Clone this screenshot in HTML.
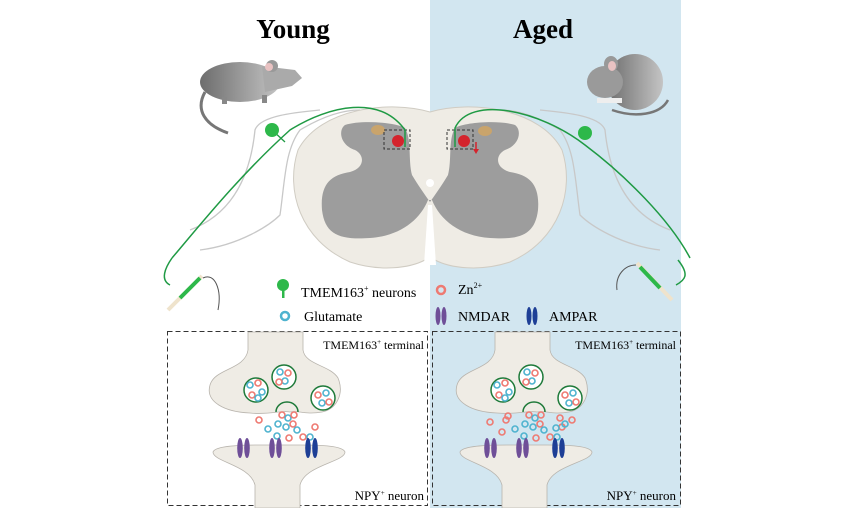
<!DOCTYPE html>
<html><head><meta charset="utf-8"><style>
html,body{margin:0;padding:0;background:#fff;}
svg{display:block}
text{font-family:"Liberation Serif",serif;}
</style></head><body>
<svg width="842" height="508" viewBox="0 0 842 508" xmlns="http://www.w3.org/2000/svg">
<defs>
<linearGradient id="mg" x1="0" x2="1"><stop offset="0" stop-color="#6d6d6d"/><stop offset="1" stop-color="#c4c4c4"/></linearGradient>
<g id="glu"><circle r="3" fill="none" stroke="#4fb3cf" stroke-width="1.6"/></g>
<g id="zn"><circle r="3" fill="none" stroke="#ee7a72" stroke-width="1.6"/></g>
</defs>
<rect x="0" y="0" width="842" height="508" fill="#fff"/>
<rect x="430" y="0" width="251" height="508" fill="#d2e6f0"/>

<text x="293" y="38" font-size="27" font-weight="bold" text-anchor="middle">Young</text>
<text x="543" y="38" font-size="27" font-weight="bold" text-anchor="middle">Aged</text>

<!-- young mouse -->
<path d="M205 92 C195 110 205 125 228 133" fill="none" stroke="#777" stroke-width="3"/>
<ellipse cx="240" cy="82" rx="40" ry="20" fill="url(#mg)"/>
<path d="M262 66 L295 70 L302 78 L292 86 L265 92 Z" fill="#aaa"/>
<ellipse cx="272" cy="66" rx="6" ry="6" fill="#999"/>
<ellipse cx="269" cy="67" rx="4" ry="4" fill="#e9c2c2"/>
<rect x="222" y="97" width="5" height="7" fill="#888"/><rect x="262" y="95" width="5" height="8" fill="#888"/>

<!-- aged mouse -->
<path d="M612 110 C635 118 660 115 668 100" fill="none" stroke="#777" stroke-width="2.5"/>
<ellipse cx="635" cy="82" rx="28" ry="28" fill="url(#mg)"/>
<ellipse cx="605" cy="82" rx="18" ry="16" fill="#9a9a9a"/>
<ellipse cx="611" cy="64" rx="7" ry="8" fill="#999"/>
<ellipse cx="612" cy="66" rx="4" ry="5" fill="#e9c2c2"/>
<rect x="597" y="98" width="25" height="5" fill="#eee"/>

<!-- body outlines -->
<path d="M190 230 C230 215 250 180 255 130 C260 115 300 112 320 110" fill="none" stroke="#c8c8c8" stroke-width="1.3"/>
<path d="M200 250 C240 245 270 225 280 215 C285 180 285 150 300 130 C320 118 340 110 360 110" fill="none" stroke="#c8c8c8" stroke-width="1.3"/>
<path d="M670 230 C630 215 610 180 605 130 C600 115 560 112 540 110" fill="none" stroke="#c8c8c8" stroke-width="1.3"/>
<path d="M660 250 C620 245 590 225 580 215 C575 180 575 150 560 130 C540 118 520 110 500 110" fill="none" stroke="#c8c8c8" stroke-width="1.3"/>

<!-- spinal cord -->
<path d="M430 112 C470 100 540 108 562 150 C575 190 560 240 510 262 C480 272 450 268 435 260 L430 215 L425 260 C410 268 380 272 350 262 C300 240 285 190 298 150 C320 108 390 100 430 112 Z" fill="#efece5" stroke="#d0ccc3" stroke-width="1"/>
<path d="M432 205 L428 205 L424 265 L436 265 Z" fill="#fff"/>
<path d="M345 125 C360 120 395 122 405 128 C412 140 408 160 412 175 C418 185 425 195 430 202 C435 195 442 185 448 175 C452 160 448 140 455 128 C465 122 500 120 515 125 C522 130 520 145 505 150 C495 155 495 168 510 172 C530 175 540 185 538 210 C535 235 520 240 490 238 C460 236 440 220 432 200 L428 200 C420 220 400 236 370 238 C340 240 325 235 322 210 C320 185 330 175 350 172 C365 168 365 155 355 150 C340 145 338 130 345 125 Z" fill="#9d9d9d"/>
<circle cx="430" cy="183" r="4" fill="#fff"/>
<ellipse cx="378" cy="130" rx="7" ry="5" fill="#c9a46c"/>
<ellipse cx="485" cy="131" rx="7" ry="5" fill="#c9a46c"/>
<circle cx="398" cy="141" r="6" fill="#d4242d"/>
<circle cx="464" cy="141" r="6" fill="#d4242d"/>
<rect x="384" y="130" width="26" height="19" fill="none" stroke="#333" stroke-dasharray="3,2"/>
<rect x="447" y="130" width="26" height="19" fill="none" stroke="#333" stroke-dasharray="3,2"/>
<path d="M476 142 L476 150" stroke="#d4242d" stroke-width="1.5"/><path d="M473 149 L476 154 L479 149 Z" fill="#d4242d"/>

<!-- green fibers -->
<path d="M172 258 C200 225 240 175 290 130 C330 105 380 95 405 130 L405 147" fill="none" stroke="#1f9a44" stroke-width="1.5"/>
<path d="M285 142 L272 130" stroke="#1f9a44" stroke-width="1.3"/>
<circle cx="272" cy="130" r="7" fill="#2db84a"/>
<path d="M172 258 C165 268 160 280 170 285" fill="none" stroke="#1f9a44" stroke-width="1.5"/>
<path d="M690 258 C670 220 625 175 585 145 C540 110 470 95 455 128 L455 147" fill="none" stroke="#1f9a44" stroke-width="1.5"/>
<circle cx="585" cy="133" r="7" fill="#2db84a"/>
<path d="M678 260 C690 275 685 280 676 285" fill="none" stroke="#1f9a44" stroke-width="1.5"/>

<!-- electrodes -->
<path d="M168 310 L202 276" stroke="#efe3cc" stroke-width="4"/>
<path d="M180 298 L200 278" stroke="#2db84a" stroke-width="4"/>
<path d="M203 278 C215 272 222 290 218 310" fill="none" stroke="#555" stroke-width="1"/>
<path d="M672 300 L637 263" stroke="#efe3cc" stroke-width="4"/>
<path d="M660 288 L640 267" stroke="#2db84a" stroke-width="4"/>
<path d="M636 265 C625 265 615 275 617 290" fill="none" stroke="#555" stroke-width="1"/>

<!-- legend -->
<circle cx="283" cy="285" r="6" fill="#2db84a"/><rect x="282" y="288" width="2.5" height="10" fill="#2db84a"/>
<text x="301" y="297" font-size="14">TMEM163<tspan font-size="8" dy="-6">+</tspan><tspan dy="6"> neurons</tspan></text>
<g transform="translate(285,316)"><circle r="4" fill="none" stroke="#4fb3cf" stroke-width="2.5"/></g>
<text x="304" y="321" font-size="14">Glutamate</text>
<g transform="translate(441,290)"><circle r="4" fill="none" stroke="#ee7a72" stroke-width="2.5"/></g>
<text x="458" y="294" font-size="14">Zn<tspan font-size="8" dy="-6">2+</tspan></text>
<ellipse cx="438" cy="316" rx="2.5" ry="9" fill="#6f4f98"/><ellipse cx="444" cy="316" rx="2.5" ry="9" fill="#6f4f98"/>
<text x="458" y="321" font-size="14">NMDAR</text>
<ellipse cx="529" cy="316" rx="2.5" ry="9" fill="#1e3f96"/><ellipse cx="535" cy="316" rx="2.5" ry="9" fill="#1e3f96"/>
<text x="549" y="321" font-size="14">AMPAR</text>

<!-- boxes -->
<rect x="167.5" y="331.5" width="260" height="174" fill="none" stroke="#333" stroke-dasharray="5,3"/>
<rect x="432.5" y="331.5" width="248" height="174" fill="none" stroke="#333" stroke-dasharray="5,3"/>

<g id="syn">
<path d="M248 332 L303 332 L303 350 C305 365 330 365 338 378 C345 395 335 410 322 412 C305 415 298 410 290 412 C282 410 270 415 250 413 C225 412 205 402 210 385 C215 368 245 370 248 350 Z" fill="#efece5" stroke="#b8b4ad" stroke-width="0.8"/>
<path d="M213 452 C215 447 230 445 260 445 L300 445 C330 445 343 447 345 452 C345 462 305 465 300 485 L300 508 L255 508 L255 485 C250 465 213 462 213 452 Z" fill="#efece5" stroke="#b8b4ad" stroke-width="0.8"/>
<circle cx="256" cy="390" r="12" fill="#fff" stroke="#1f7a3a" stroke-width="1.5"/>
<circle cx="284" cy="377" r="12" fill="#fff" stroke="#1f7a3a" stroke-width="1.5"/>
<circle cx="323" cy="398" r="12" fill="#fff" stroke="#1f7a3a" stroke-width="1.5"/>
<path d="M276 412 A11 10 0 0 1 298 412" fill="none" stroke="#1f7a3a" stroke-width="1.5"/>
<use href="#glu" x="250" y="385"/><use href="#zn" x="258" y="383"/><use href="#glu" x="262" y="392"/><use href="#zn" x="252" y="395"/><use href="#glu" x="258" y="398"/>
<use href="#glu" x="280" y="372"/><use href="#zn" x="288" y="373"/><use href="#glu" x="285" y="381"/><use href="#zn" x="279" y="382"/>
<use href="#zn" x="318" y="395"/><use href="#glu" x="326" y="393"/><use href="#glu" x="322" y="403"/><use href="#zn" x="329" y="402"/>
<use href="#zn" x="282" y="415"/><use href="#glu" x="288" y="418"/><use href="#zn" x="294" y="415"/><use href="#glu" x="278" y="424"/><use href="#glu" x="286" y="427"/><use href="#zn" x="293" y="424"/><use href="#glu" x="297" y="430"/><use href="#zn" x="259" y="420"/><use href="#glu" x="268" y="429"/><use href="#glu" x="277" y="436"/><use href="#zn" x="289" y="438"/><use href="#zn" x="315" y="427"/><use href="#zn" x="303" y="437"/><use href="#glu" x="310" y="437"/>
<ellipse cx="240" cy="448" rx="2.8" ry="10" fill="#6f4f98"/><ellipse cx="247" cy="448" rx="2.8" ry="10" fill="#6f4f98"/>
<ellipse cx="272" cy="448" rx="2.8" ry="10" fill="#6f4f98"/><ellipse cx="279" cy="448" rx="2.8" ry="10" fill="#6f4f98"/>
<ellipse cx="308" cy="448" rx="2.8" ry="10" fill="#1e3f96"/><ellipse cx="315" cy="448" rx="2.8" ry="10" fill="#1e3f96"/>
</g>
<use href="#syn" x="247" y="0"/>
<g>
<use href="#zn" x="490" y="422"/><use href="#zn" x="508" y="416"/><use href="#zn" x="560" y="418"/><use href="#glu" x="565" y="424"/><use href="#zn" x="572" y="420"/><use href="#zn" x="502" y="432"/><use href="#glu" x="556" y="428"/>
</g>

<text x="424" y="349" font-size="12" text-anchor="end">TMEM163<tspan font-size="7" dy="-5">+</tspan><tspan dy="5"> terminal</tspan></text>
<text x="676" y="349" font-size="12" text-anchor="end">TMEM163<tspan font-size="7" dy="-5">+</tspan><tspan dy="5"> terminal</tspan></text>
<text x="424" y="500" font-size="13" text-anchor="end">NPY<tspan font-size="7" dy="-5">+</tspan><tspan dy="5"> neuron</tspan></text>
<text x="676" y="500" font-size="13" text-anchor="end">NPY<tspan font-size="7" dy="-5">+</tspan><tspan dy="5"> neuron</tspan></text>
</svg>
</body></html>
